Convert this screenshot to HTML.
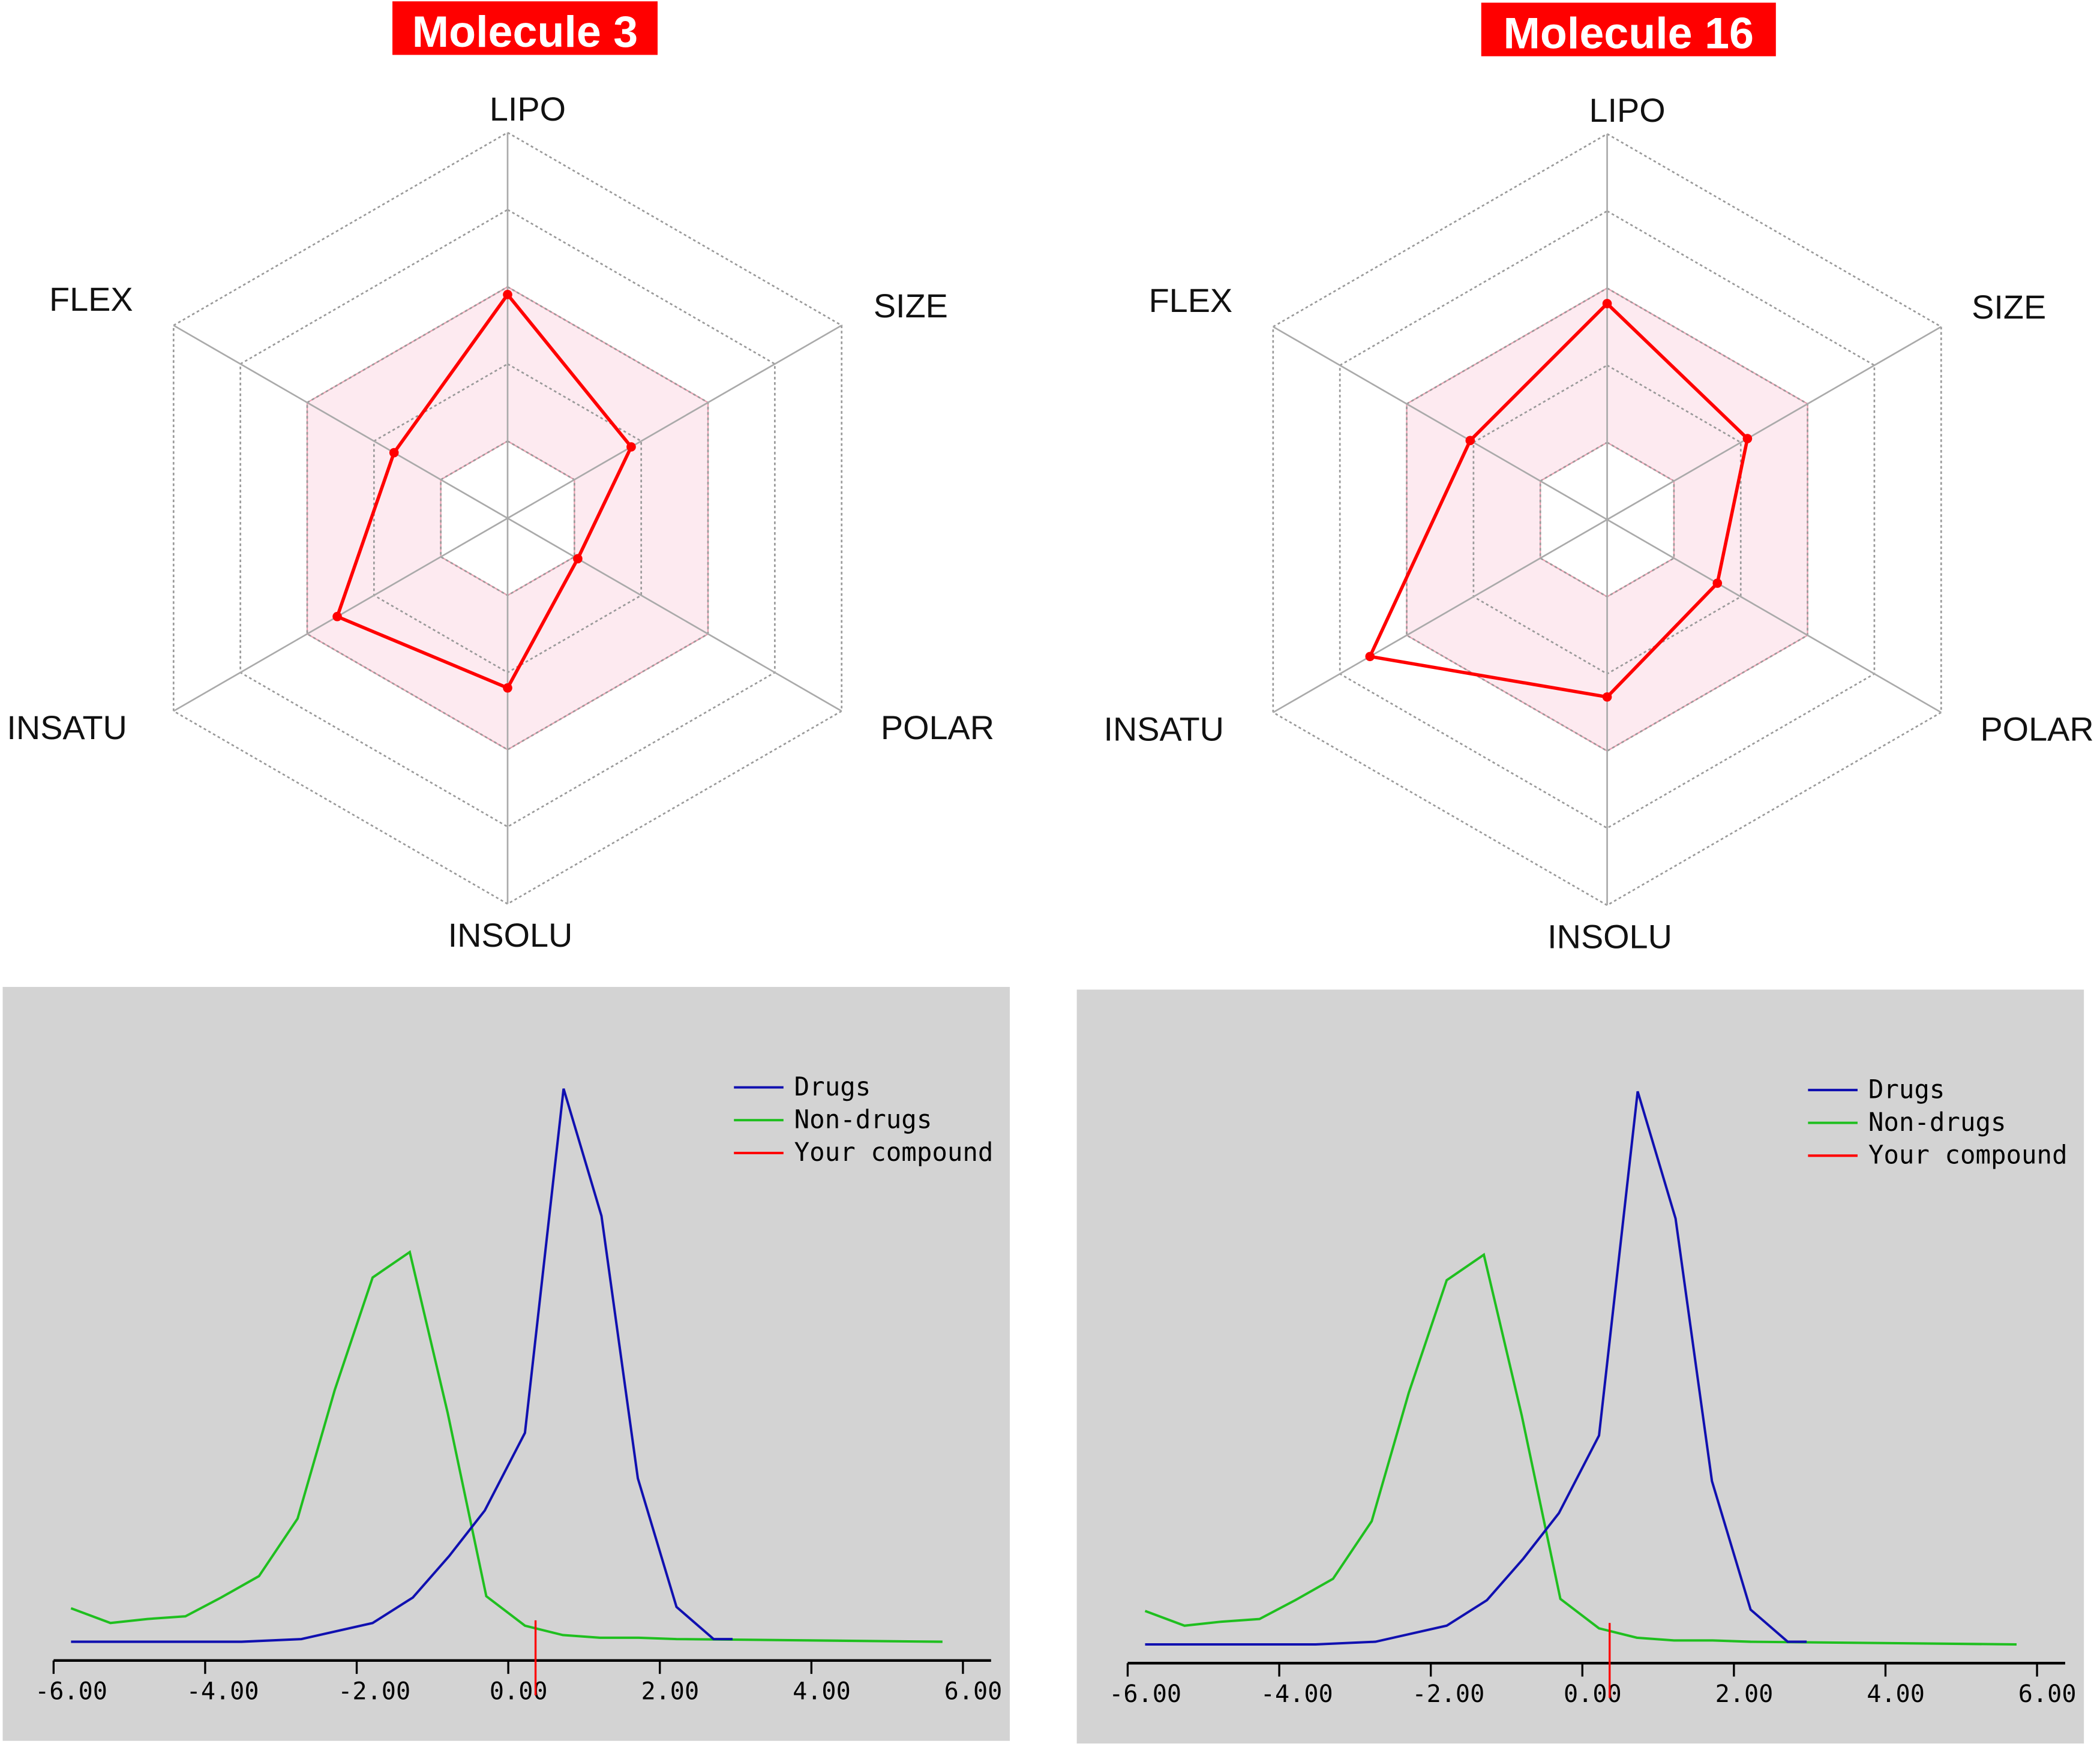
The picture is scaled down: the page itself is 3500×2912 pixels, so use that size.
<!DOCTYPE html>
<html><head><meta charset="utf-8"><style>
html,body{margin:0;padding:0;background:#fff;}
svg{display:block;}
.lbl{font-family:"Liberation Sans",Arial,sans-serif;font-size:25px;fill:#111;}
.tick{font-family:"DejaVu Sans Mono","Liberation Mono",monospace;font-size:18px;fill:#000;}
.leg{font-family:"DejaVu Sans Mono","Liberation Mono",monospace;font-size:19px;fill:#000;}
</style></head><body>
<svg id="root" width="3500" height="2912" viewBox="0 0 1568 1304.6" xmlns="http://www.w3.org/2000/svg">
<g id="g"></g>
</svg>
<script>
// Radar data (fraction of outer radius)
const axesNames = ["LIPO","SIZE","POLAR","INSOLU","INSATU","FLEX"];
const mol3Values = [0.58, 0.37, 0.21, 0.44, 0.51, 0.34];
const mol16Values = [0.56, 0.42, 0.33, 0.46, 0.71, 0.41];
// Distribution data (x in units, density arbitrary)
const drugsX = [-5.77,-3.52,-2.73,-1.79,-1.26,-0.78,-0.31,0.22,0.73,1.23,1.71,2.22,2.71,2.96];
const drugsY = [0,0,2,14,33,64,98,156,413,318,122,26,2,2];
const nonDrugsX = [-5.77,-5.25,-4.76,-4.26,-3.79,-3.29,-2.78,-2.29,-1.79,-1.30,-0.80,-0.29,0.22,0.72,1.21,1.72,2.22,5.73];
const nonDrugsY = [25,14,17,19,33,49,92,188,272,291,171,34,12,5,3,3,2,0];
const compound3 = 0.36;
const compound16 = 0.36;
const tickValues = [-6,-4,-2,0,2,4,6];
const tickLabels = ["-6.00","-4.00","-2.00","0.00","2.00","4.00","6.00"];
const legendLabels = ["Drugs","Non-drugs","Your compound"];

const NS="http://www.w3.org/2000/svg";
const G=document.getElementById('g');
function mk(tag,attrs,parent){const e=document.createElementNS(NS,tag);for(const k in attrs)e.setAttribute(k,attrs[k]);(parent||G).appendChild(e);return e;}

function radar(cx,cy,R,vals,title,tx,tw,labelPos){
  const grp=mk('g',{});
  
  
  const ang=i=>-Math.PI/2+i*Math.PI/3;
  const pt=(i,r)=>[cx+r*Math.cos(ang(i)),cy+r*Math.sin(ang(i))];
  const hex=r=>[0,1,2,3,4,5].map(i=>pt(i,r).join(',')).join(' ');
  const band=mk('path',{d:'M'+hex(R*0.6).replace(/ /g,' L')+' Z M'+hex(R*0.2).replace(/ /g,' L')+' Z',fill:'#fdeaf0','fill-rule':'evenodd',stroke:'#e8a0b0','stroke-width':1},grp);
  
  
  for(let k=1;k<=5;k++){
    const ring=mk('polygon',{points:hex(R*k/5),fill:'none',stroke:'#999','stroke-width':1.2,'stroke-dasharray':'2,2'},grp);
    
    
  }
  for(let i=0;i<6;i++){
    const p=pt(i,R);
    const ax=mk('line',{x1:cx,y1:cy,x2:p[0],y2:p[1],stroke:'#aaa','stroke-width':1.2},grp);
    
    
  }
  const pts=vals.map((v,i)=>pt(i,v*R));
  const poly=mk('polygon',{points:pts.map(p=>p.join(',')).join(' '),fill:'none',stroke:'#f00','stroke-width':2.5},grp);
  
  
  pts.forEach(p=>{
    const c=mk('circle',{cx:p[0],cy:p[1],r:3.5,fill:'#f00'},grp);
    
    
  });
  axesNames.forEach((n,i)=>{
    const t=mk('text',{x:labelPos[i][0],y:labelPos[i][1],'text-anchor':'middle',class:'lbl'},grp);
    t.textContent=n;
    
    
  });
  const tb=mk('rect',{x:tx,y:cy-386,width:tw,height:40,fill:'#f00'},grp);
  
  
  const tt=mk('text',{x:tx+tw/2,y:cy-352,'text-anchor':'middle',fill:'#fff','font-family':'Liberation Sans, Arial, sans-serif','font-weight':'bold','font-size':33},grp);
  tt.textContent=title;
  
  
}
radar(379,387,288,mol3Values,'Molecule 3',293,198,[[394,90],[680,237],[700,552],[381,707],[50,552],[68,232]]);
radar(1200,388,288,mol16Values,'Molecule 16',1106,220,[[1215,91],[1500,238],[1521,553],[1202,708],[869,553],[889,233]]);

function dist(ox,oy,comp){
  const grp=mk('g',{});
  
  
  const bg=mk('rect',{x:ox,y:oy,width:752,height:563,fill:'#d3d3d3'},grp);
  
  
  const x0=ox+38, x1=ox+717, axY=oy+503, base=oy+489, yScale=(489-76)/413;
  const sx=v=>x0+(v+6)/12*(x1-x0);
  const sy=v=>base-v*yScale;
  const al=mk('line',{x1:x0,y1:axY,x2:ox+738,y2:axY,stroke:'#000','stroke-width':2},grp);
  
  
  tickValues.forEach((v,i)=>{
    const t=mk('line',{x1:sx(v),y1:axY,x2:sx(v),y2:axY+10,stroke:'#000','stroke-width':1.5},grp);
    
    
    const l=mk('text',{x:sx(v)-14,y:axY+29,'text-anchor':'start',class:'tick'},grp);
    l.textContent=tickLabels[i];
    
    
  });
  const g1=mk('polyline',{points:nonDrugsX.map((x,i)=>sx(x)+','+sy(nonDrugsY[i])).join(' '),fill:'none',stroke:'#1fbf1f','stroke-width':1.8},grp);
  
  
  const b1=mk('polyline',{points:drugsX.map((x,i)=>sx(x)+','+sy(drugsY[i])).join(' '),fill:'none',stroke:'#1010b0','stroke-width':1.8},grp);
  
  
  const r1=mk('line',{x1:sx(comp),y1:base-16,x2:sx(comp),y2:axY+26,stroke:'#f00','stroke-width':1.5},grp);
  
  
  const cols=['#1010b0','#1fbf1f','#f00'];
  legendLabels.forEach((n,i)=>{
    const y=oy+75+i*24.5;
    const ln=mk('line',{x1:ox+546,y1:y,x2:ox+583,y2:y,stroke:cols[i],'stroke-width':1.8},grp);
    
    
    const t=mk('text',{x:ox+591,y:y+6,class:'leg'},grp);
    t.textContent=n;
    
    
  });
}
dist(2,737,compound3);
dist(804,739,compound16);
</script>
</body></html>
